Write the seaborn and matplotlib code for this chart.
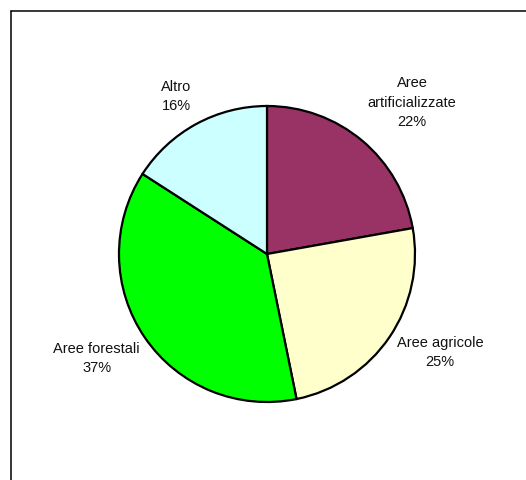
import matplotlib
matplotlib.use("Agg")
import matplotlib.pyplot as plt
from matplotlib.lines import Line2D
import seaborn as sns

# data (shares in %, labels show them rounded)
categories = ["Aree\nartificializzate", "Aree agricole", "Aree forestali", "Altro"]
shares = [22.2, 24.6, 37.3, 15.9]
slice_colors = ["#993366", "#FFFFCC", "#00FF00", "#CCFFFF"]

# label centres, in pie-radius units from the pie centre
label_pos = [(0.98, 1.03), (1.17, -0.66), (-1.15, -0.70), (-0.615, 1.07)]

sns.set_style("white")
plt.rcParams['font.family'] = ['Liberation Sans', 'DejaVu Sans']

fig = plt.figure(figsize=(5.26, 4.81), dpi=100)
ax = fig.add_axes([0, 0, 1, 1])

wedges, _ = ax.pie(shares, colors=slice_colors, startangle=90, counterclock=False,
                   wedgeprops={'edgecolor': 'black', 'linewidth': 1.6})

for name, val, (x, y) in zip(categories, shares, label_pos):
    ax.text(x, y, f"{name}\n{val:.0f}%", ha='center', va='center', fontsize=10.5,
            linespacing=1.5, color='#111111')

ax.set_xlim(-1.804, 1.75)
ax.set_ylim(-1.527, 1.723)
ax.set_aspect('auto')
ax.axis('off')

# chart frame (clipped at right and bottom as in the original)
fx = 10.5 / 526
fy = 1 - 11.5 / 481
fig.add_artist(Line2D([fx, 1.01], [fy, fy], color='black', lw=1.1, transform=fig.transFigure))
fig.add_artist(Line2D([fx, fx], [fy, -0.01], color='black', lw=1.1, transform=fig.transFigure))

fig.savefig("out.png", dpi=100)
